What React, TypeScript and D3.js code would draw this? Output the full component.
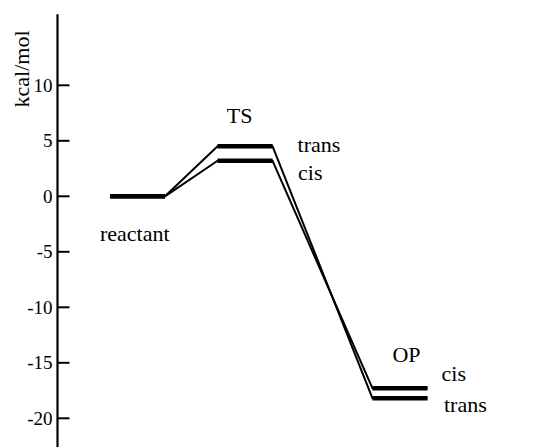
import React from "react";
import * as d3 from "d3";

const stages = ["reactant", "TS", "OP"];
const stageCoord = [0, 1, 2.44];
const transEnergy = [0, 4.5, -18.2];
const cisEnergy = [0, 3.2, -17.3];
const yTicks = [-20, -15, -10, -5, 0, 5, 10];
const yLabel = "kcal/mol";

const W = 542;
const H = 447;

function Label(props: { x: number; y: number; size?: number; anchor?: string; dy?: string; transform?: string; children: React.ReactNode }) {
  return (
    <text
      x={props.x}
      y={props.y}
      dy={props.dy}
      transform={props.transform}
      textAnchor={props.anchor || "start"}
      fontSize={props.size || 22}
      style={{ fontFamily: `"Liberation Serif"` }}
    >
      {props.children}
    </text>
  );
}

export default function App() {
  const x = d3.scaleLinear().domain([0, 2.44]).range([137.5, 400]);
  const y = d3.scaleLinear().domain([-20, 10]).range([418.3, 85.3]);
  const halfW = 27.5;
  const axisX = 57.5;

  const seriesPath = (energies: number[]) => {
    const pts: [number, number][] = [];
    energies.forEach((e, i) => {
      pts.push([x(stageCoord[i]) - halfW, y(e)]);
      pts.push([x(stageCoord[i]) + halfW, y(e)]);
    });
    return d3.line()(pts) as string;
  };

  const series = [
    { name: "trans", values: transEnergy },
    { name: "cis", values: cisEnergy },
  ];

  return (
    <svg width={W} height={H} style={{ position: "absolute", left: 0, top: 0 }}>
      <g fontFamily="Liberation Serif">
        {/* axis */}
        <line x1={axisX} x2={axisX} y1={y(16.4)} y2={y(-23)} stroke="#000" strokeWidth={2.2} />
        {yTicks.map((t) => (
          <g key={t}>
            <line x1={axisX} x2={axisX + 12} y1={y(t)} y2={y(t)} stroke="#000" strokeWidth={2} />
            <Label x={axisX - 5} y={y(t) + 6.5} anchor="end" size={19}>
              {String(t)}
            </Label>
          </g>
        ))}
        <Label x={0} y={0} transform="translate(29,69) rotate(-90)" anchor="middle">
          {yLabel}
        </Label>

        {/* connectors */}
        {series.map((s) => (
          <path key={s.name} d={seriesPath(s.values)} fill="none" stroke="#000" strokeWidth={2} strokeLinejoin="round" />
        ))}
        {/* levels */}
        {series.map((s) =>
          s.values.map((e, i) => (
            <line
              key={s.name + i}
              x1={x(stageCoord[i]) - halfW}
              x2={x(stageCoord[i]) + halfW}
              y1={y(e)}
              y2={y(e)}
              stroke="#000"
              strokeWidth={4.5}
            />
          ))
        )}

        {/* labels */}
        <Label x={x(stageCoord[0]) - 37.5} y={y(0) + 45}>{stages[0]}</Label>
        <Label x={x(stageCoord[1]) - 5.5} y={y(transEnergy[1]) - 23.5} anchor="middle">{stages[1]}</Label>
        <Label x={x(stageCoord[1]) + halfW + 25} y={y(transEnergy[1]) + 6}>trans</Label>
        <Label x={x(stageCoord[1]) + halfW + 25.5} y={y(cisEnergy[1]) + 19}>cis</Label>
        <Label x={x(stageCoord[2]) + 6.5} y={y(cisEnergy[2]) - 26.5} anchor="middle">{stages[2]}</Label>
        <Label x={x(stageCoord[2]) + halfW + 14} y={y(cisEnergy[2]) - 7.5}>cis</Label>
        <Label x={x(stageCoord[2]) + halfW + 16.5} y={y(transEnergy[2]) + 13.5}>trans</Label>
      </g>
    </svg>
  );
}
